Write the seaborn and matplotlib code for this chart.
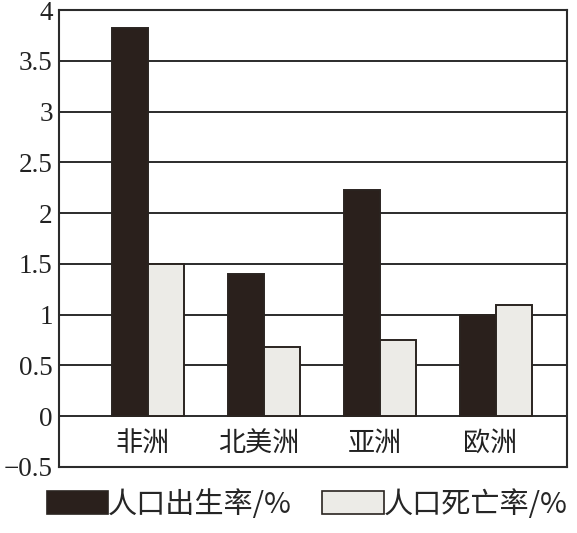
import matplotlib
matplotlib.use("Agg")
import matplotlib.pyplot as plt
import seaborn as sns
import pandas as pd
from matplotlib.patches import Patch

continents = ["非洲", "北美洲", "亚洲", "欧洲"]
birth_rate = [3.82, 1.40, 2.23, 1.00]
death_rate = [1.50, 0.68, 0.75, 1.10]
series_names = ["人口出生率/%", "人口死亡率/%"]
y_ticks = [-0.5, 0, 0.5, 1, 1.5, 2, 2.5, 3, 3.5, 4]
y_tick_labels = ["−0.5", "0", "0.5", "1", "1.5", "2", "2.5", "3", "3.5", "4"]

df = pd.DataFrame({
    "洲": continents * 2,
    "值": birth_rate + death_rate,
    "指标": [series_names[0]] * 4 + [series_names[1]] * 4,
})

sns.set_theme(style="white")
cjk = ["Noto Sans CJK SC", "DejaVu Sans"]
plt.rcParams["font.family"] = cjk
plt.rcParams["axes.unicode_minus"] = True

dark = "#2a201c"
light = "#ecebe7"
edge = "#2a2420"

fig = plt.figure(figsize=(5.77, 5.33), dpi=100)
ax = fig.add_axes([59 / 577, 1 - 467 / 533, (567 - 59) / 577, (467 - 10) / 533])

for y in y_ticks:
    ax.axhline(y, color="#2b2b2b", lw=1.4, zorder=0)

sns.barplot(data=df, x="洲", y="值", hue="指标", order=continents,
            hue_order=series_names, palette=[dark, light], width=0.62,
            edgecolor=edge, linewidth=1.4, saturation=1, legend=False, ax=ax,
            zorder=2)

ax.set_xlim(-0.77, 3.61)
ax.set_ylim(-0.5, 4)
ax.set_yticks(y_ticks)
ax.set_yticklabels(y_tick_labels, fontfamily=["Liberation Serif"], fontsize=19.5,
                   color="#222222")
ax.tick_params(axis="y", length=0, pad=4.5)
ax.set_xticks([])
ax.set_xlabel("")
ax.set_ylabel("")

for i, name in enumerate(continents):
    ax.text(i - 0.05, -0.27, name, ha="center", va="center", fontsize=19.5,
            color="#222222", fontweight="light")

for s in ax.spines.values():
    s.set_visible(True)
    s.set_color("#2b2b2b")
    s.set_linewidth(1.5)

handles = [Patch(facecolor=dark, edgecolor=edge, lw=1.2),
           Patch(facecolor=light, edgecolor=edge, lw=1.2)]
fig.legend(handles, series_names, loc="center", bbox_to_anchor=(0.532, 1 - 505 / 533),
           ncol=2, frameon=False, handlelength=2.1, handleheight=0.83,
           handletextpad=0.0, columnspacing=1.05, borderpad=0,
           prop={"family": cjk, "size": 21, "weight": "light"})

fig.savefig("out.png", dpi=100, facecolor="white")
